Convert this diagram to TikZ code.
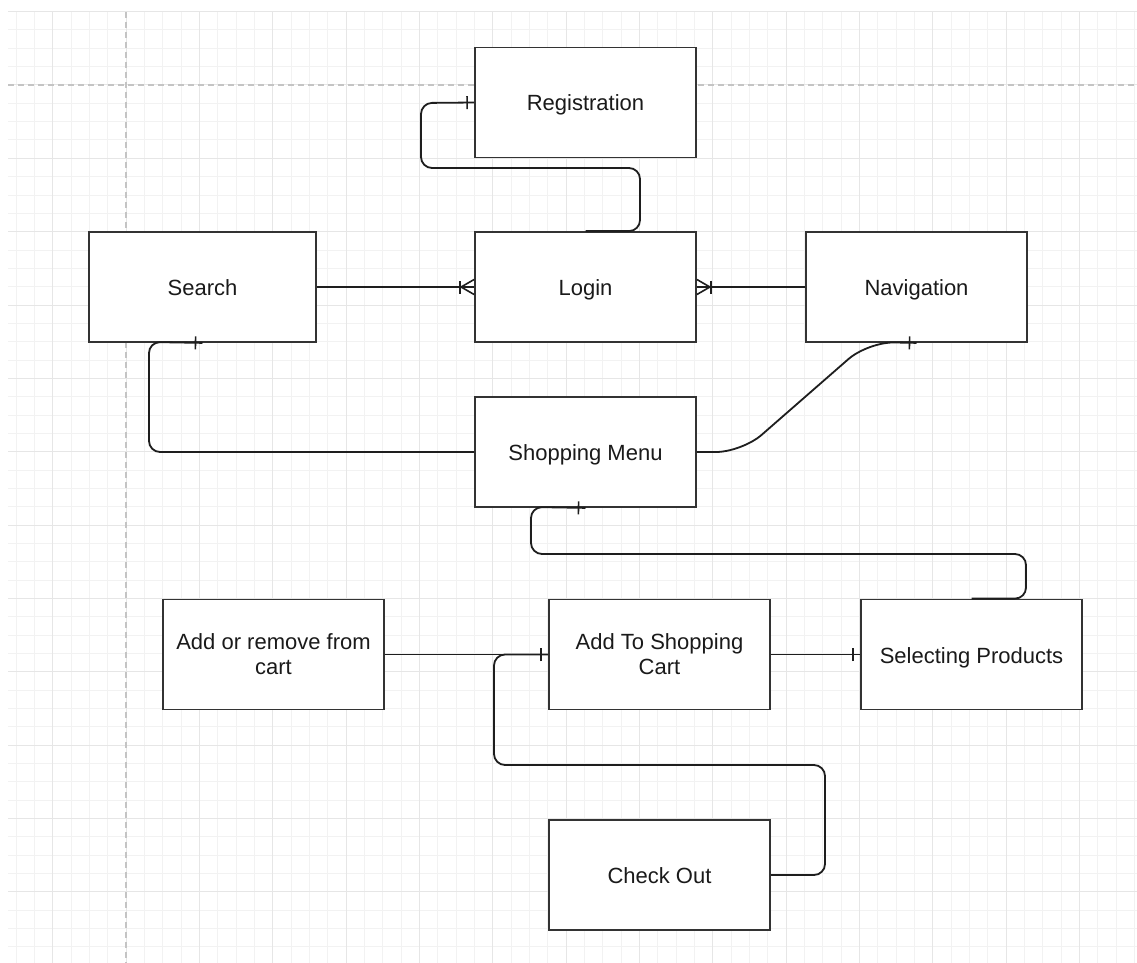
\documentclass[tikz,border=0pt]{standalone}
\usepackage{fontspec}
\setmainfont{Liberation Sans}
\usetikzlibrary{decorations.markings}
\definecolor{gridminor}{HTML}{F2F2F2}
\definecolor{gridmajor}{HTML}{E6E6E6}
\definecolor{pagedash}{HTML}{C4C4C4}
\definecolor{boxline}{HTML}{333333}
\definecolor{connline}{HTML}{1E1E1E}
\definecolor{txt}{HTML}{1A1A1A}
\newcommand{\twolines}[2]{\raisebox{-2pt}[\height][\depth]{\begin{tabular}{@{}c@{}}#1\\#2\end{tabular}}}
\tikzset{
  box/.style={draw=boxline, line width=1.8pt, fill=white, minimum width=221pt, minimum height=110pt,
    align=center, text=txt, font=\fontsize{22pt}{25pt}\selectfont, inner sep=2pt},
  oneline/.style={text height=17pt, text depth=0pt},
  conn/.style={draw=connline, line width=1.8pt, rounded corners=11pt},
  tickend/.style={postaction={decorate, decoration={markings,
    mark=at position 1 with {\draw[connline, line width=1.6pt, sharp corners] (-7pt,-6.5pt) -- (-7pt,6.5pt);}}}},
  crowend/.style={postaction={decorate, decoration={markings,
    mark=at position 1 with {\draw[connline, line width=1.6pt, sharp corners] (-14pt,-6.5pt) -- (-14pt,6.5pt);
      \draw[connline, line width=1.6pt, sharp corners] (0pt,-7.5pt) -- (-13pt,0pt) -- (0pt,7.5pt);}}}},
}
\begin{document}
\begin{tikzpicture}[x=1pt,y=-1pt]
\useasboundingbox (0,0) rectangle (1137,963);
\fill[white] (0,0) rectangle (1137,963);
% grid
\begin{scope}
  \clip (8,12) rectangle (1137,963);
  \foreach \i in {-6,...,56} {
    \draw[gridminor, line width=1pt] ({126+\i*18.3333},0) -- ({126+\i*18.3333},963);
  }
  \foreach \j in {-5,...,50} {
    \draw[gridminor, line width=1pt] (0,{85+\j*18.3333}) -- (1137,{85+\j*18.3333});
  }
  \foreach \i in {-1,...,14} {
    \draw[gridmajor, line width=1pt] ({126+\i*73.3333},0) -- ({126+\i*73.3333},963);
  }
  \foreach \j in {-1,...,12} {
    \draw[gridmajor, line width=1pt] (0,{85+\j*73.3333}) -- (1137,{85+\j*73.3333});
  }
  \draw[pagedash, line width=1.6pt, dash pattern=on 6pt off 4pt] (126,12) -- (126,963);
  \draw[pagedash, line width=1.6pt, dash pattern=on 6pt off 4pt] (8,85) -- (1137,85);
\end{scope}
% nodes
\node[box, oneline] (reg) at (585.5,102.5) {Registration};
\node[box, oneline] (login) at (585.5,287) {Login};
\node[box, oneline, minimum width=227pt] (search) at (202.5,287) {Search};
\node[box, oneline] (nav) at (916.5,287) {Navigation};
\node[box, oneline] (menu) at (585.5,452) {Shopping Menu};
\node[box] (arc) at (273.5,654.5) {\twolines{Add or remove from}{cart}};
\node[box] (add) at (659.5,654.5) {\twolines{Add To Shopping}{Cart}};
\node[box, oneline] (sel) at (971.5,654.5) {Selecting Products};
\node[box, oneline] (co) at (659.5,875) {Check Out};
% connectors
\coordinate (r1) at (640,168);
\coordinate (r2) at (421,103);
\draw[conn, tickend] (login.north) -| (r1) -| (r2) -- (reg.west);
\draw[conn, crowend] (search.east) -- (login.west);
\draw[conn, crowend] (nav.west) -- (login.east);
\coordinate (s1) at (149,342);
\draw[conn, tickend] (menu.west) -| (s1) -- (search.south);
\coordinate (n1) at (742,452);
\coordinate (n2) at (868,342);
\draw[conn, rounded corners=26pt, tickend] (menu.east) -- (n1) -- (n2) -- (nav.south);
\coordinate (p1) at (1026,554);
\coordinate (p2) at (531,507);
\draw[conn, tickend] (sel.north) -| (p1) -| (p2) -- (menu.south);
\draw[conn, tickend] (arc.east) -- (add.west);
\draw[conn, tickend] (add.east) -- (sel.west);
\coordinate (c1) at (825,765);
\coordinate (c2) at (494,654.5);
\draw[conn, tickend] (co.east) -| (c1) -| (c2) -- (add.west);
\end{tikzpicture}
\end{document}
